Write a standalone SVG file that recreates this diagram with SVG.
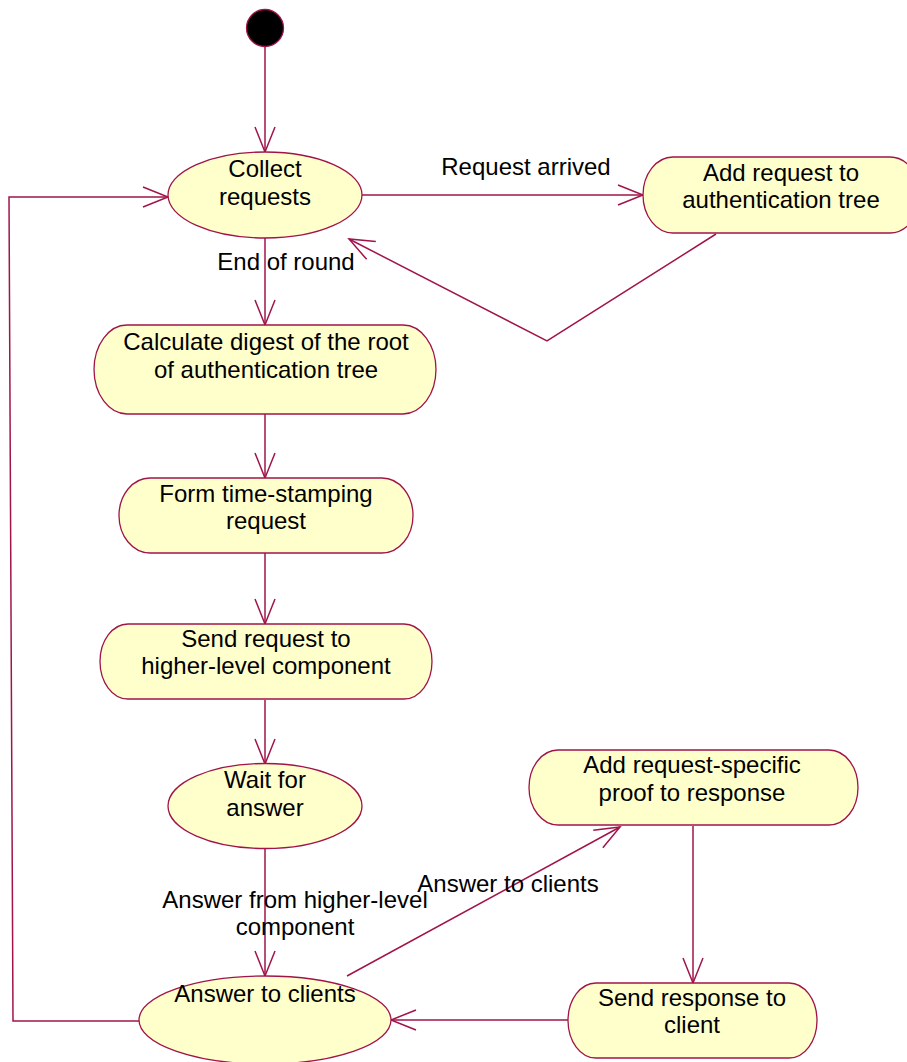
<svg xmlns="http://www.w3.org/2000/svg" width="907" height="1062" viewBox="0 0 907 1062">
<style>
.n{fill:#FFFFCC;stroke:#A0144A;stroke-width:1.3}
.c{fill:none;stroke:#A0144A;stroke-width:1.5}
text{font-family:"Liberation Sans",Arial,sans-serif;font-size:24px;fill:#000;text-anchor:middle}
</style>
<defs>
<marker id="a" markerUnits="userSpaceOnUse" viewBox="-30 -14 32 28" markerWidth="32" markerHeight="28" refX="0" refY="0" orient="auto" overflow="visible">
<path d="M-25,-10 L0,0 L-25,10" fill="none" stroke="#A0144A" stroke-width="1.5"/>
</marker>
</defs>
<g id="connectors">
<line class="c" x1="265" y1="47" x2="265" y2="152" marker-end="url(#a)"/>
<line class="c" x1="362" y1="195" x2="643" y2="195" marker-end="url(#a)"/>
<polyline class="c" points="716,234 547,341 349,239" marker-end="url(#a)"/>
<line class="c" x1="265" y1="238" x2="265" y2="325" marker-end="url(#a)"/>
<line class="c" x1="265" y1="414" x2="265" y2="478" marker-end="url(#a)"/>
<line class="c" x1="265" y1="553" x2="265" y2="624" marker-end="url(#a)"/>
<line class="c" x1="265" y1="700" x2="265" y2="764" marker-end="url(#a)"/>
<line class="c" x1="265" y1="849" x2="265" y2="976" marker-end="url(#a)"/>
<line class="c" x1="347" y1="976" x2="620" y2="827" marker-end="url(#a)"/>
<line class="c" x1="693" y1="826" x2="693" y2="983" marker-end="url(#a)"/>
<line class="c" x1="568" y1="1020" x2="391" y2="1020" marker-end="url(#a)"/>
<polyline class="c" points="139,1021 13,1021 9,197 168,197" marker-end="url(#a)"/>
<text x="526" y="175">Request arrived</text>
<text x="286" y="270">End of round</text>
<text x="508" y="892">Answer to clients</text>
<text x="295" y="908">Answer from higher-level</text>
<text x="295" y="935">component</text>
</g>
<g id="start"><circle cx="265" cy="28" r="18.5" fill="#000" stroke="#A0144A" stroke-width="1.3"/></g>
<g id="collect">
<ellipse class="n" cx="265" cy="195" rx="97" ry="43"/>
<text x="265" y="177">Collect</text>
<text x="265" y="205">requests</text>
</g>
<g id="addreq">
<path class="n" d="M673,157 L890,157 A30,38 0 0 1 890,233 L673,233 A30,38 0 0 1 673,157 Z"/>
<text x="781" y="181">Add request to</text>
<text x="781" y="208">authentication tree</text>
</g>
<g id="calc">
<path class="n" d="M127,325 L403,325 A33,44.5 0 0 1 403,414 L127,414 A33,44.5 0 0 1 127,325 Z"/>
<text x="266" y="350">Calculate digest of the root</text>
<text x="266" y="378">of authentication tree</text>
</g>
<g id="form">
<path class="n" d="M150,478 L382,478 A31,37.5 0 0 1 382,553 L150,553 A31,37.5 0 0 1 150,478 Z"/>
<text x="266" y="502">Form time-stamping</text>
<text x="266" y="529">request</text>
</g>
<g id="sendreq">
<path class="n" d="M128,624 L404,624 A28,37.5 0 0 1 404,699 L128,699 A28,37.5 0 0 1 128,624 Z"/>
<text x="266" y="647">Send request to</text>
<text x="266" y="674">higher-level component</text>
</g>
<g id="wait">
<ellipse class="n" cx="265" cy="806" rx="97" ry="42.5"/>
<text x="265" y="788">Wait for</text>
<text x="265" y="816">answer</text>
</g>
<g id="addproof">
<path class="n" d="M558,750 L829,750 A29,37.5 0 0 1 829,825 L558,825 A29,37.5 0 0 1 558,750 Z"/>
<text x="692" y="773">Add request-specific</text>
<text x="692" y="801">proof to response</text>
</g>
<g id="sendresp">
<path class="n" d="M596,983 L789,983 A28,37.5 0 0 1 789,1058 L596,1058 A28,37.5 0 0 1 596,983 Z"/>
<text x="692" y="1006">Send response to</text>
<text x="692" y="1033">client</text>
</g>
<g id="answer">
<ellipse class="n" cx="265" cy="1020" rx="126" ry="44"/>
<text x="265" y="1002">Answer to clients</text>
</g>
</svg>
